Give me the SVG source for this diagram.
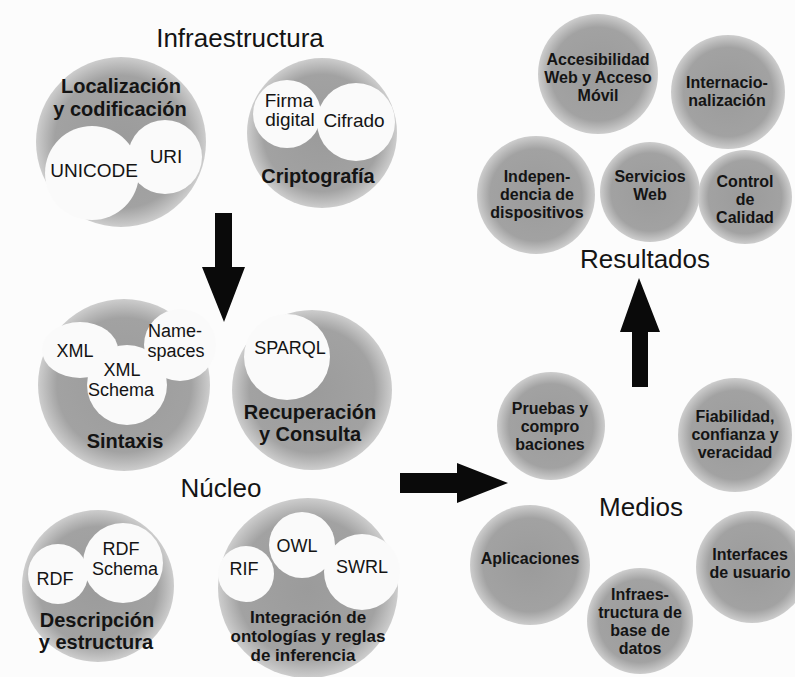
<svg xmlns="http://www.w3.org/2000/svg" width="795" height="677" viewBox="0 0 795 677">
<defs>
<radialGradient id="g" cx="50%" cy="50%" r="50%">
<stop offset="0%" stop-color="#9b9b9b"/>
<stop offset="78%" stop-color="#a2a2a2"/>
<stop offset="100%" stop-color="#cdcdcd"/>
</radialGradient>
<style>
.c{fill:url(#g)}
.w{fill:#fafafa}
text{font-family:"Liberation Sans",Arial,sans-serif;fill:#141414;text-anchor:middle}
.t{font-size:26px}
.l{font-size:18px}
.li{font-size:19px}
.b{font-size:20px;font-weight:bold}
.bs{font-size:17px;font-weight:bold}
.r{font-size:16px;font-weight:bold}
.arrow{fill:#0a0a0a}
</style>
</defs>
<rect width="795" height="677" fill="#fcfcfc"/>

<g id="title-infraestructura"><text class="t" x="240" y="47">Infraestructura</text></g>

<g id="localizacion">
<circle class="c" cx="121" cy="142" r="85"/>
<circle class="w" cx="92" cy="173" r="47"/>
<circle class="w" cx="165" cy="157" r="37"/>
<text class="b" x="121" y="93">Localización</text>
<text class="b" x="120" y="116">y codificación</text>
<text class="li" x="94" y="177">UNICODE</text>
<text class="li" x="166" y="163">URI</text>
</g>

<g id="criptografia">
<circle class="c" cx="322" cy="133" r="75"/>
<circle class="w" cx="287" cy="114" r="34"/>
<circle class="w" cx="356" cy="122" r="39"/>
<text class="li" x="289" y="107">Firma</text>
<text class="li" x="290" y="126">digital</text>
<text class="li" x="354" y="127">Cifrado</text>
<text class="b" x="318" y="183">Criptografía</text>
</g>

<g id="sintaxis">
<circle class="c" cx="124" cy="385" r="86"/>
<ellipse class="w" cx="80" cy="350" rx="38" ry="28"/>
<circle class="w" cx="180" cy="345" r="36"/>
<circle class="w" cx="127" cy="385" r="40"/>
<text class="l" x="75" y="357">XML</text>
<text class="l" x="175" y="337">Name-</text>
<text class="l" x="176" y="357">spaces</text>
<text class="l" x="122" y="376">XML</text>
<text class="l" x="121" y="396">Schema</text>
<text class="b" x="125" y="448">Sintaxis</text>
</g>

<g id="recuperacion">
<circle class="c" cx="312" cy="390" r="80"/>
<circle class="w" cx="287" cy="357" r="43"/>
<text class="l" x="290" y="354">SPARQL</text>
<text class="b" x="310" y="419">Recuperación</text>
<text class="b" x="310" y="441">y Consulta</text>
</g>

<g id="title-nucleo"><text class="t" x="221" y="497">Núcleo</text></g>

<g id="descripcion">
<circle class="c" cx="98" cy="586" r="76"/>
<circle class="w" cx="58" cy="574" r="30"/>
<circle class="w" cx="123" cy="563" r="40"/>
<text class="l" x="55" y="585">RDF</text>
<text class="l" x="121" y="555">RDF</text>
<text class="l" x="125" y="575">Schema</text>
<text class="b" x="97" y="627">Descripción</text>
<text class="b" x="96" y="649">y estructura</text>
</g>

<g id="integracion">
<circle class="c" cx="308" cy="588" r="90"/>
<circle class="w" cx="246" cy="574" r="28"/>
<circle class="w" cx="302" cy="545" r="33"/>
<circle class="w" cx="362" cy="572" r="38"/>
<text class="l" x="244" y="575">RIF</text>
<text class="l" x="297" y="552">OWL</text>
<text class="l" x="362" y="573">SWRL</text>
<text class="bs" x="308" y="623">Integración de</text>
<text class="bs" x="308" y="642">ontologías y reglas</text>
<text class="bs" x="303" y="661">de inferencia</text>
</g>

<g id="accesibilidad">
<circle class="c" cx="598" cy="74" r="60"/>
<text class="r" x="598" y="65">Accesibilidad</text>
<text class="r" x="598" y="83">Web y Acceso</text>
<text class="r" x="598" y="101">Móvil</text>
</g>
<g id="internacionalizacion">
<circle class="c" cx="728" cy="92" r="57"/>
<text class="r" x="727" y="88">Internacio-</text>
<text class="r" x="727" y="106">nalización</text>
</g>
<g id="independencia">
<circle class="c" cx="536" cy="195" r="59"/>
<text class="r" x="537" y="182">Indepen-</text>
<text class="r" x="537" y="200">dencia de</text>
<text class="r" x="537" y="218">dispositivos</text>
</g>
<g id="servicios-web">
<circle class="c" cx="650" cy="192" r="50"/>
<text class="r" x="650" y="182">Servicios</text>
<text class="r" x="650" y="200">Web</text>
</g>
<g id="control-calidad">
<circle class="c" cx="745" cy="197" r="47"/>
<text class="r" x="745" y="187">Control</text>
<text class="r" x="745" y="205">de</text>
<text class="r" x="745" y="223">Calidad</text>
</g>
<g id="title-resultados"><text class="t" x="645" y="268">Resultados</text></g>

<g id="pruebas">
<circle class="c" cx="551" cy="426" r="54"/>
<text class="r" x="550" y="414">Pruebas y</text>
<text class="r" x="550" y="432">compro</text>
<text class="r" x="550" y="450">baciones</text>
</g>
<g id="fiabilidad">
<circle class="c" cx="735" cy="435" r="57"/>
<text class="r" x="735" y="422">Fiabilidad,</text>
<text class="r" x="735" y="440">confianza y</text>
<text class="r" x="735" y="458">veracidad</text>
</g>
<g id="title-medios"><text class="t" x="641" y="516">Medios</text></g>
<g id="aplicaciones">
<circle class="c" cx="530" cy="565" r="60"/>
<text class="r" x="530" y="564">Aplicaciones</text>
</g>
<g id="interfaces">
<circle class="c" cx="752" cy="567" r="56"/>
<text class="r" x="750" y="560">Interfaces</text>
<text class="r" x="750" y="578">de usuario</text>
</g>
<g id="infraestructura-bd">
<circle class="c" cx="640" cy="621" r="53"/>
<text class="r" x="640" y="600">Infraes-</text>
<text class="r" x="640" y="618">tructura de</text>
<text class="r" x="640" y="636">base de</text>
<text class="r" x="640" y="654">datos</text>
</g>

<g id="connectors">
<polygon class="arrow" points="215,213 232,213 232,267 245,267 224,322 202,267 215,267"/>
<polygon class="arrow" points="400,473 457,473 457,463 508,483 457,503 457,493 400,493"/>
<polygon class="arrow" points="632,387 648,387 648,332 660,332 639,278 620,332 632,332"/>
</g>
</svg>
